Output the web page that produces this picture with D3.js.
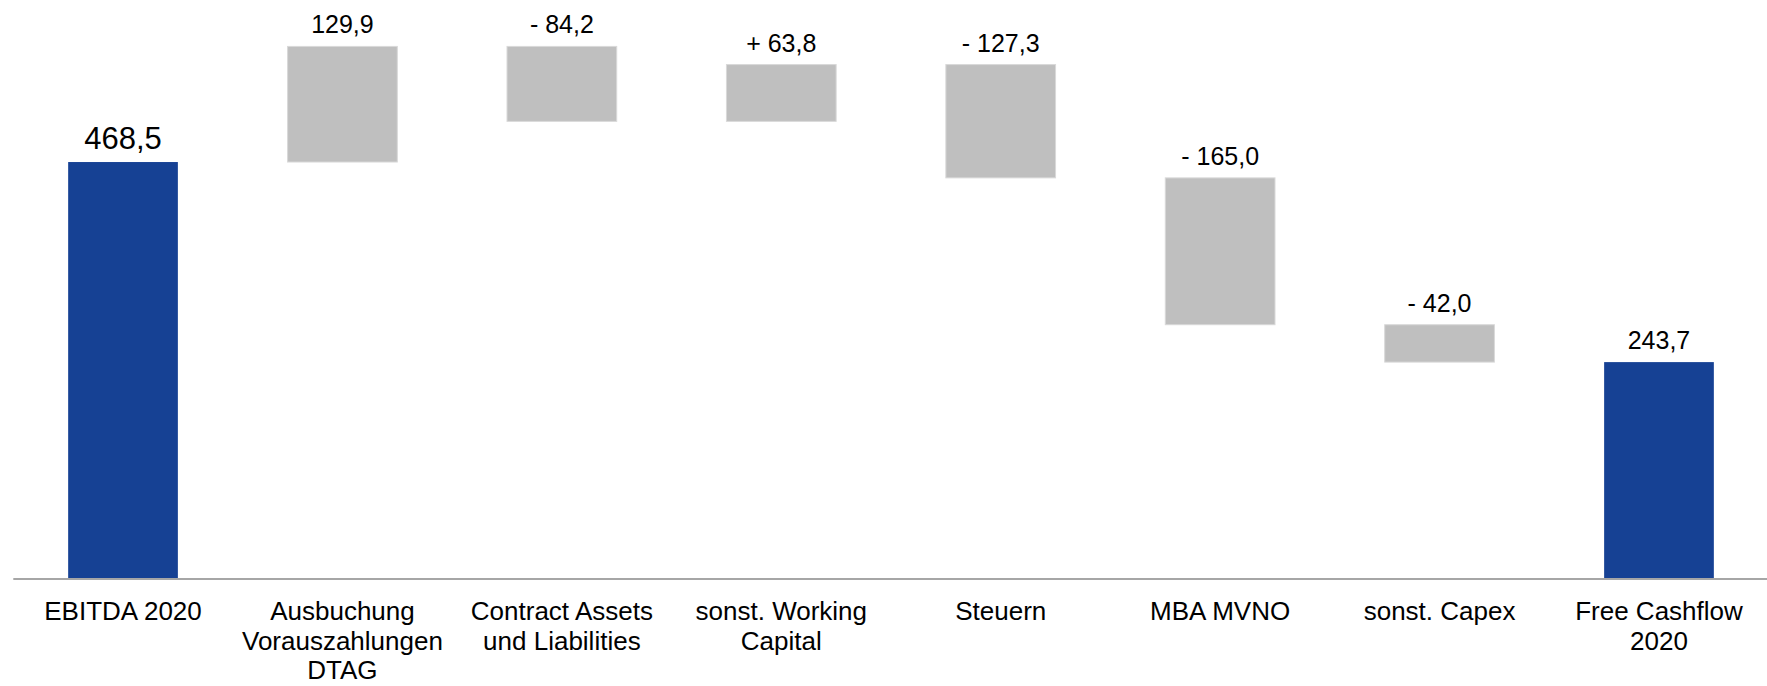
<!DOCTYPE html>
<html>
<head>
<meta charset="utf-8">
<script src="https://cdn.jsdelivr.net/npm/d3@7"></script>
<style>
	body { margin: 0; background: #fff; }
	svg { display: block; font-family: "Liberation Sans", Arial, sans-serif; }
</style>
</head>
<body>
<div class="waterfall"></div>
<script>
// categories, one per bar (multi-line labels split on "|")
var categories = ["EBITDA 2020", "Ausbuchung|Vorauszahlungen|DTAG", "Contract Assets|und Liabilities",
	"sonst. Working|Capital", "Steuern", "MBA MVNO", "sonst. Capex", "Free Cashflow|2020"];
// change for each step; totals are marked below
var stepValues = [468.5, 129.9, -84.2, 63.8, -127.3, -165.0, -42.0, 243.7];
var isTotal = [true, false, false, false, false, false, false, true];
// labels as printed above the bars
var valueLabels = ["468,5", "129,9", "- 84,2", "+ 63,8", "- 127,3", "- 165,0", "- 42,0", "243,7"];

function buildBars(){
	// running sum gives start / end of every floating bar
	var bars = [];
	var running = 0;
	for (var i = 0; i < categories.length; i++) {
		var start, end;
		if (isTotal[i]) {
			start = 0;
			end = stepValues[i];
			running = stepValues[i];
		} else {
			start = running;
			end = running + stepValues[i];
			running = end;
		}
		bars.push({name: categories[i], start: start, end: end, total: isTotal[i], label: valueLabels[i]});
	}
	return bars;
}

function drawWaterfall(){
	var width = 1767,
	    height = 686;

	var data = buildBars();

	var x = d3.scaleBand()
	    .domain(categories)
	    .range([13.3, 1768.7])
	    .paddingInner(0.5)
	    .paddingOuter(0.25);

	var y = d3.scaleLinear()
	    .domain([0, 600])
	    .range([579, 45]);

	var svg = d3.select("div.waterfall").append("svg")
	    .attr("width", width)
	    .attr("height", height);

	svg.selectAll(".bar")
	    .data(data)
	  .enter().append("rect")
	    .attr("class", "bar")
	    .attr("x", function(d) { return x(d.name); })
	    .attr("y", function(d) { return y(Math.max(d.start, d.end)); })
	    .attr("width", x.bandwidth())
	    .attr("height", function(d) { return Math.abs(y(d.start) - y(d.end)); })
	    .attr("fill", function(d) { return d.total ? "#164194" : "#bfbfbf"; })
	    .attr("stroke", function(d) { return d.total ? "none" : "#d9d9d9"; })
	    .attr("stroke-width", 1);

	svg.selectAll(".value")
	    .data(data)
	  .enter().append("text")
	    .attr("class", "value")
	    .attr("x", function(d) { return x(d.name) + x.bandwidth() / 2; })
	    .attr("y", function(d) { return y(Math.max(d.start, d.end)) - 13; })
	    .attr("text-anchor", "middle")
	    .attr("font-size", function(d, i) { return i === 0 ? "31px" : "25px"; })
	    .attr("fill", "#000")
	    .text(function(d) { return d.label; });

	// x axis: just the line plus the wrapped category labels
	svg.append("line")
	    .attr("x1", x.range()[0])
	    .attr("x2", width)
	    .attr("y1", y(0))
	    .attr("y2", y(0))
	    .attr("stroke", "#a6a6a6")
	    .attr("stroke-width", 2);

	var cat = svg.selectAll(".cat")
	    .data(data)
	  .enter().append("text")
	    .attr("class", "cat")
	    .attr("text-anchor", "middle")
	    .attr("font-size", "26px")
	    .attr("fill", "#000")
	    .attr("transform", function(d) { return "translate(" + (x(d.name) + x.bandwidth() / 2) + "," + (y(0) + 41) + ")"; });

	cat.selectAll("tspan")
	    .data(function(d) { return d.name.split("|"); })
	  .enter().append("tspan")
	    .attr("x", 0)
	    .attr("y", function(d, i) { return i * 29.5; })
	    .text(function(d) { return d; });
}

drawWaterfall();
</script>
</body>
</html>
